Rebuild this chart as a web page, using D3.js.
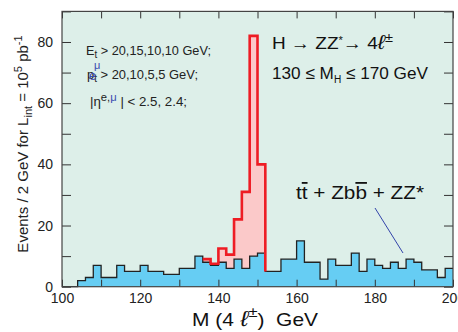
<html>
<head>
<style>
  body { margin: 0; background: #fff; }
  text { font-family: "Liberation Sans", Arial, Helvetica, sans-serif; white-space: pre; }
</style>
</head>
<body>
  <script src="https://d3js.org/d3.v7.min.js"></script>
  <div id="chart"></div>
  <script>
    // background (tt + Zbb + ZZ*), events per 2 GeV bin, bins from 100 to 200 GeV
    const binLow = d3.range(100, 200, 2);
    const background = [0, 0, 2, 3, 7, 3, 3, 7, 5, 5,
                        7, 5, 5, 4, 4, 6, 6, 10, 8, 7,
                        8, 6, 9, 6, 10, 11, 5, 5, 9, 9,
                        15, 8, 8, 2.5, 9, 7, 7, 11, 5, 9,
                        7, 6, 8, 6, 9, 8, 5.5, 5.5, 3, 6];
    // signal + background in the Higgs window
    const signalMass = [136, 138, 140, 142, 144, 146, 148, 150];
    const signalPlusBkg = [9, 7.5, 12.5, 10.5, 22, 31, 82, 40];

    const xTicks = [100, 110, 120, 130, 140, 150, 160, 170, 180, 190, 200];
    const yTicks = [0, 10, 20, 30, 40, 50, 60, 70, 80, 90];

    const width = 458, height = 332;
    const pLeft = 62, pRight = 453, pTop = 11.4, pBottom = 286.7;

    const svg = d3.select("#chart").append("svg")
      .attr("width", width)
      .attr("height", height);

    const x = d3.scaleLinear().domain([100, 200]).range([pLeft, pRight]);
    const y = d3.scaleLinear().domain([0, 90]).range([pBottom, pTop]);

    // plot background
    svg.append("rect")
      .attr("x", pLeft).attr("y", pTop)
      .attr("width", pRight - pLeft).attr("height", pBottom - pTop)
      .style("fill", "#ddefe9");

    // histogram points (step after, with closing point at the upper edge)
    let bkgPts = binLow.map((m, i) => ({m: m, v: background[i]}));
    bkgPts.push({m: 200, v: background[background.length - 1]});

    let sigPts = signalMass.map((m, i) => ({m: m, v: signalPlusBkg[i]}));
    let lastSig = signalMass[signalMass.length - 1] + 2;
    let sigArea = sigPts.concat([{m: lastSig, v: signalPlusBkg[signalPlusBkg.length - 1]}]);
    let sigLine = sigPts.concat([{m: lastSig, v: background[binLow.indexOf(lastSig)]}]);

    const area = d3.area().curve(d3.curveStepAfter)
      .x(d => x(d.m)).y0(y(0)).y1(d => y(d.v));
    const line = d3.line().curve(d3.curveStepAfter)
      .x(d => x(d.m)).y(d => y(d.v));

    svg.append("path").attr("d", area(sigArea)).style("fill", "#fbc9c9");
    svg.append("path").attr("d", area(bkgPts)).style("fill", "#66cdf3");
    svg.append("path").attr("d", line(bkgPts))
      .style("fill", "none").style("stroke", "#222").style("stroke-width", 1.3);
    svg.append("path").attr("d", line(sigLine))
      .style("fill", "none").style("stroke", "#ee1c24").style("stroke-width", 2.6);

    // axes with inward ticks
    const fmtX = d => (d % 20 === 0 ? d : "");
    const fmtY = d => (d % 20 === 0 && d < 90 ? d : "");
    const gx = svg.append("g").attr("transform", `translate(0,${pBottom})`)
      .call(d3.axisBottom(x).tickValues(xTicks).tickSize(-7).tickPadding(6).tickFormat(fmtX));
    const gxt = svg.append("g").attr("transform", `translate(0,${pTop})`)
      .call(d3.axisTop(x).tickValues(xTicks).tickSize(-7).tickFormat(""));
    const gy = svg.append("g").attr("transform", `translate(${pLeft},0)`)
      .call(d3.axisLeft(y).tickValues(yTicks).tickSize(-9).tickPadding(9).tickFormat(fmtY));
    const gyr = svg.append("g").attr("transform", `translate(${pRight},0)`)
      .call(d3.axisRight(y).tickValues(yTicks).tickSize(-9).tickFormat(""));
    [gx, gxt, gy, gyr].forEach(g => {
      g.select(".domain").remove();
      g.selectAll("line").style("stroke", "#333").style("stroke-width", 1);
      g.selectAll("text").style("font-size", "14px").style("fill", "#222")
        .style("font-family", "'Liberation Sans', Arial, sans-serif");
    });

    // frame
    svg.append("rect")
      .attr("x", pLeft).attr("y", pTop)
      .attr("width", pRight - pLeft).attr("height", pBottom - pTop)
      .style("fill", "none").style("stroke", "#444").style("stroke-width", 1.2);

    // cuts text
    const cut = svg.append("g").style("font-size", "13px").style("fill", "#222");
    let t1 = cut.append("text").attr("x", 86).attr("y", 55)
      .attr("textLength", 125).attr("lengthAdjust", "spacingAndGlyphs");
    t1.append("tspan").text("E");
    t1.append("tspan").attr("dy", 3).style("font-size", "10px").text("t");
    t1.append("tspan").attr("dy", -3).text(" > 20,15,10,10 GeV;");

    let t2 = cut.append("text").attr("x", 87).attr("y", 79)
      .attr("textLength", 111).attr("lengthAdjust", "spacingAndGlyphs");
    t2.append("tspan").text("p");
    t2.append("tspan").attr("dy", 3).style("font-size", "10px").text("t");
    t2.append("tspan").attr("dy", -3).text(" > 20,10,5,5 GeV;");
    cut.append("text").attr("x", 89).attr("y", 80).style("fill", "#3a4cb0").text("e");
    cut.append("text").attr("x", 94).attr("y", 69).style("font-size", "11px")
      .style("fill", "#3a4cb0").text("μ");

    let t3 = cut.append("text").attr("x", 90).attr("y", 106)
      .attr("textLength", 97).attr("lengthAdjust", "spacingAndGlyphs");
    t3.append("tspan").text("|η");
    t3.append("tspan").attr("dy", -5).style("font-size", "11px").text("e,");
    t3.append("tspan").style("font-size", "11px").style("fill", "#3a4cb0").text("μ");
    t3.append("tspan").attr("dy", 5).text(" | < 2.5, 2.4;");

    // process labels
    const proc = svg.append("g").style("font-size", "17px").style("fill", "#111");
    let p1 = proc.append("text").attr("x", 272).attr("y", 49)
      .attr("textLength", 121).attr("lengthAdjust", "spacingAndGlyphs");
    p1.append("tspan").text("H → ZZ");
    p1.append("tspan").attr("dy", -5).style("font-size", "10px").text("*");
    p1.append("tspan").attr("dy", 5).text("→ 4");
    p1.append("tspan").style("font-size", "20px").style("font-style", "italic").text("ℓ");
    p1.append("tspan").attr("dy", -7).style("font-size", "13px").text("±");

    let p2 = proc.append("text").attr("x", 272).attr("y", 79)
      .attr("textLength", 156).attr("lengthAdjust", "spacingAndGlyphs");
    p2.append("tspan").text("130 ≤ M");
    p2.append("tspan").attr("dy", 4).style("font-size", "10px").text("H");
    p2.append("tspan").attr("dy", -4).text(" ≤ 170 GeV");

    let p3 = proc.append("text").attr("x", 296).attr("y", 199).style("font-size", "18px")
      .attr("textLength", 128).attr("lengthAdjust", "spacingAndGlyphs");
    p3.append("tspan").text("t");
    p3.append("tspan").style("text-decoration", "overline").text("t");
    p3.append("tspan").text(" + Zb");
    p3.append("tspan").style("text-decoration", "overline").text("b");
    p3.append("tspan").text(" + ZZ*");

    // pointer line to background histogram
    svg.append("line")
      .attr("x1", 375).attr("y1", 208).attr("x2", 403).attr("y2", 253)
      .style("stroke", "#3344aa").style("stroke-width", 1);

    // axis titles
    let xt = svg.append("text").attr("x", 192).attr("y", 326)
      .attr("textLength", 126).attr("lengthAdjust", "spacingAndGlyphs")
      .style("font-size", "19px").style("fill", "#111");
    xt.append("tspan").text("M (4");
    xt.append("tspan").style("font-size", "22px").style("font-style", "italic").text(" ℓ");
    xt.append("tspan").attr("dy", -9).style("font-size", "15px").text("±");
    xt.append("tspan").attr("dy", 9).text(")  GeV");

    let yt = svg.append("text")
      .attr("transform", "translate(28,144) rotate(-90)")
      .attr("text-anchor", "middle")
      .style("font-size", "15px").style("fill", "#222");
    yt.append("tspan").text("Events / 2 GeV for L");
    yt.append("tspan").attr("dy", 4).style("font-size", "11px").text("int");
    yt.append("tspan").attr("dy", -4).text(" = 10");
    yt.append("tspan").attr("dy", -6).style("font-size", "11px").text("5");
    yt.append("tspan").attr("dy", 6).text(" pb");
    yt.append("tspan").attr("dy", -6).style("font-size", "11px").text("-1");
  </script>
</body>
</html>
